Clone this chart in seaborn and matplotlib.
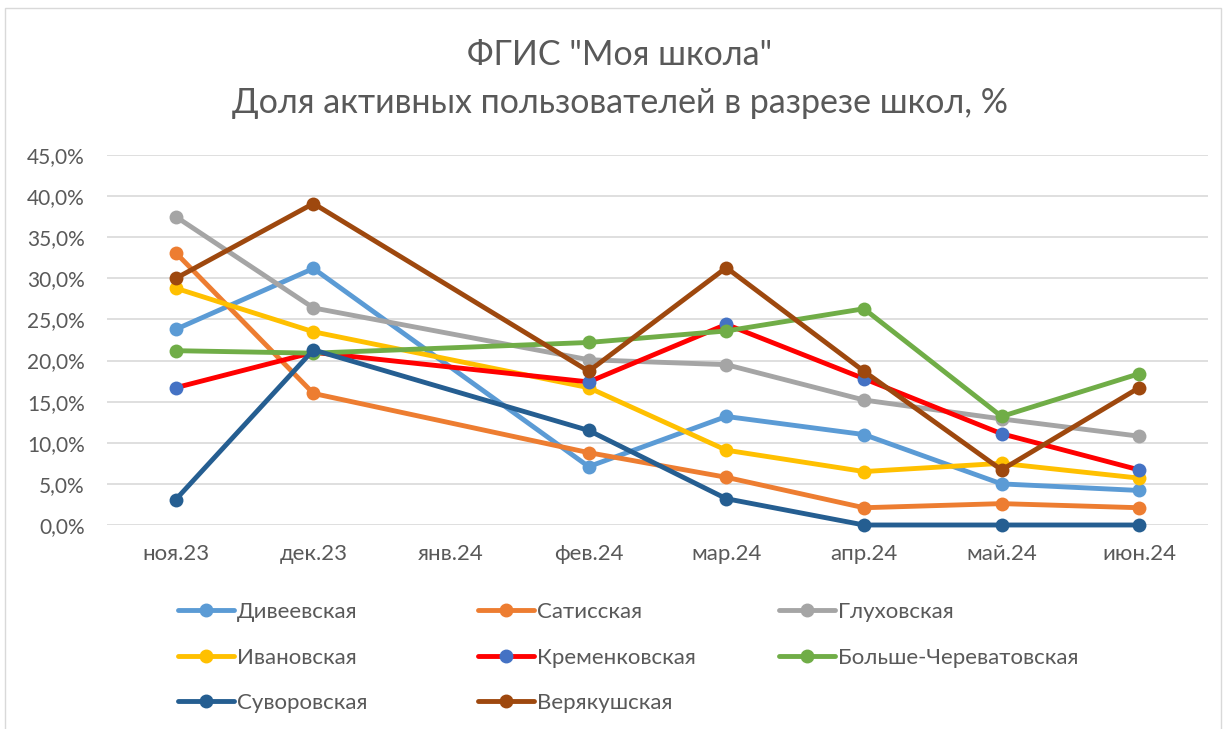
import numpy as np
import pandas as pd
import matplotlib
matplotlib.use("Agg")
import matplotlib.pyplot as plt
import seaborn as sns
from matplotlib.lines import Line2D
from matplotlib.patches import Rectangle
from matplotlib.ticker import FuncFormatter

sns.set_theme(style="white")
plt.rcParams['font.family'] = ['Lato', 'DejaVu Sans']

# --- dados ---
months = ["ноя.23", "дек.23", "янв.24", "фев.24", "мар.24", "апр.24", "май.24", "июн.24"]
nan = np.nan
schools = ["Дивеевская", "Сатисская", "Глуховская", "Ивановская",
           "Кременковская", "Больше-Череватовская", "Суворовская", "Верякушская"]
diveevskaya   = [23.8, 31.2, nan, 7.1, 13.2, 11.0, 5.0, 4.2]
satisskaya    = [33.1, 16.0, nan, 8.8, 5.8, 2.1, 2.6, 2.1]
gluhovskaya   = [37.5, 26.4, nan, 20.1, 19.5, 15.2, 12.9, 10.8]
ivanovskaya   = [28.8, 23.5, nan, 16.7, 9.1, 6.5, 7.5, 5.7]
kremenkovskaya = [16.7, 21.0, nan, 17.4, 24.4, 17.8, 11.1, 6.7]
bolshe_cher   = [21.2, 20.9, nan, 22.2, 23.6, 26.3, 13.2, 18.4]
suvorovskaya  = [3.1, 21.3, nan, 11.5, 3.2, 0.0, 0.0, 0.0]
veryakushskaya = [30.0, 39.1, nan, 18.7, 31.3, 18.7, 6.7, 16.7]
values = [diveevskaya, satisskaya, gluhovskaya, ivanovskaya,
          kremenkovskaya, bolshe_cher, suvorovskaya, veryakushskaya]

line_colors = ["#5B9BD5", "#ED7D31", "#A5A5A5", "#FFC000",
               "#FF0000", "#70AD47", "#255E91", "#9E480E"]
marker_colors = ["#5B9BD5", "#ED7D31", "#A5A5A5", "#FFC000",
                 "#4472C4", "#70AD47", "#255E91", "#9E480E"]

rows = []
for s, vals in zip(schools, values):
    for i, v in enumerate(vals):
        rows.append({"school": s, "pos": i, "valor": v})
df = pd.DataFrame(rows).dropna()

TXT = "#595959"
fig = plt.figure(figsize=(12.26, 7.29), dpi=100)
ax = fig.add_axes([107 / 1226, 1 - 525 / 729, (1208 - 107) / 1226, (525 - 155) / 729])

for s, lc, mc in zip(schools, line_colors, marker_colors):
    sub = df[df["school"] == s]
    sns.lineplot(data=sub, x="pos", y="valor", ax=ax, color=lc, lw=3.5,
                 marker="o", markersize=10, markerfacecolor=mc,
                 markeredgecolor=mc, markeredgewidth=0, clip_on=False,
                 sort=False, estimator=None)

ax.set_xlim(-0.5, 7.5)
ax.set_ylim(0, 45)
ax.set_yticks(np.arange(0, 46, 5))
ax.yaxis.set_major_formatter(FuncFormatter(lambda v, p: f"{v:.1f}%".replace(".", ",")))
ax.set_xticks(range(len(months)))
ax.set_xticklabels(months)
ax.set_xlabel("")
ax.set_ylabel("")
ax.grid(axis="y", color="#D9D9D9", lw=1.2)
ax.set_axisbelow(True)
for sp in ax.spines.values():
    sp.set_visible(False)
ax.tick_params(axis="both", length=0, labelcolor=TXT)
ax.tick_params(axis="y", pad=16, labelsize=15)
ax.tick_params(axis="x", pad=14, labelsize=16)

# titulo
fig.text(620 / 1226, 1 - 55 / 729, 'ФГИС "Моя школа"', ha="center", va="center",
         fontsize=24.5, color=TXT)
fig.text(620 / 1226, 1 - 103 / 729, "Доля активных пользователей в разрезе школ, %",
         ha="center", va="center", fontsize=24.5, color=TXT)

# legenda em 3 colunas
handles = [Line2D([0], [0], color=lc, lw=3.5, marker="o", markersize=9,
                  markerfacecolor=mc, markeredgecolor=mc)
           for lc, mc in zip(line_colors, marker_colors)]
cols = [[0, 3, 6], [1, 4, 7], [2, 5]]
col_x = [178 / 1226, 478 / 1226, 779 / 1226]
for cx, idx in zip(col_x, cols):
    fig.legend([handles[i] for i in idx], [schools[i] for i in idx],
               loc="upper left", bbox_to_anchor=(cx, 1 - 602 / 729),
               frameon=False, borderpad=0, borderaxespad=0, fontsize=16,
               handlelength=2.5, handletextpad=0.15, labelspacing=1.15,
               labelcolor=TXT, numpoints=1)

# borda
fig.add_artist(Rectangle((5 / 1226, -0.01), 1216 / 1226, 1 - 8 / 729 + 0.01,
                         transform=fig.transFigure, fill=False,
                         edgecolor="#D9D9D9", lw=1))

fig.savefig("out.png", dpi=100)
